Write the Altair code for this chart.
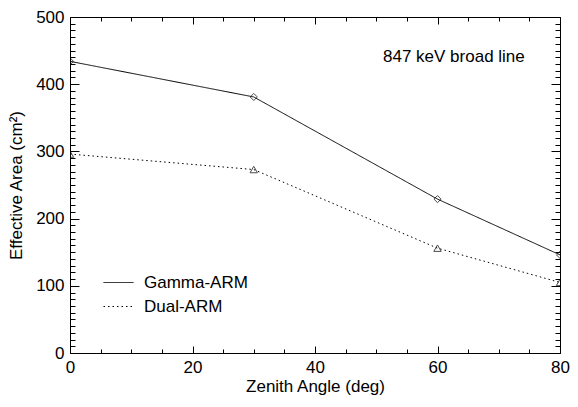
import altair as alt
import pandas as pd

# ---- data ----
angles = [0, 30, 60, 80]
gamma_arm = [434, 381, 229, 146]
dual_arm = [296, 273, 156, 105]
series_names = ["Gamma-ARM", "Dual-ARM"]
annotation = "847 keV broad line"

x_major = [0, 20, 40, 60, 80]
x_minor = list(range(0, 81, 5))
y_major = [0, 100, 200, 300, 400, 500]
y_minor = list(range(0, 501, 10))

df = pd.DataFrame({
    "angle": angles * 2,
    "area": gamma_arm + dual_arm,
    "series": [series_names[0]] * len(angles) + [series_names[1]] * len(angles),
})

FONT = "Liberation Sans"
W, H = 490, 336

xscale = alt.Scale(domain=[0, 80], nice=False, zero=False)
yscale = alt.Scale(domain=[0, 500], nice=False)

x_tick_size = {"condition": {"test": "datum.value % 20 === 0", "value": 7}, "value": 4}
y_tick_size = {"condition": {"test": "datum.value % 100 === 0", "value": 9}, "value": 5}


def tick_axis_x(orient):
    return alt.Axis(orient=orient, offset=-H, values=x_minor, tickSize=x_tick_size,
                    labels=False, domain=False, grid=False, title=None, ticks=True)


def tick_axis_y(orient):
    return alt.Axis(orient=orient, offset=-W, values=y_minor, tickSize=y_tick_size,
                    labels=False, domain=False, grid=False, title=None, ticks=True)


lines = alt.Chart(df).mark_line(color="black", strokeWidth=1, clip=True).encode(
    x=alt.X("angle:Q", scale=xscale,
            axis=alt.Axis(orient="bottom", values=x_major, title="Zenith Angle (deg)",
                          ticks=False, tickSize=0, domain=False, grid=False,
                          labelPadding=6, titlePadding=3, labelFlush=False)),
    y=alt.Y("area:Q", scale=yscale,
            axis=alt.Axis(orient="left", values=y_major, title="Effective Area (cm²)",
                          ticks=False, tickSize=0, domain=False, grid=False,
                          labelPadding=6, titlePadding=10, labelFlush=False)),
    strokeDash=alt.StrokeDash(
        "series:N",
        scale=alt.Scale(domain=series_names, range=[[1, 0], [1.5, 3]]),
        legend=alt.Legend(title=None, orient="none", legendX=33, legendY=250,
                          symbolType="stroke", symbolSize=900, symbolStrokeWidth=1,
                          symbolStrokeColor="black", labelFontSize=17, labelFont=FONT,
                          labelColor="black", labelOffset=10, rowPadding=0, padding=0),
    ),
)

pts_g = alt.Chart(df).transform_filter(
    alt.datum.series == series_names[0]
).mark_point(shape="diamond", filled=False, color="black", size=50, strokeWidth=1, clip=True).encode(
    x=alt.X("angle:Q", scale=xscale, axis=tick_axis_x("top")),
    y=alt.Y("area:Q", scale=yscale, axis=tick_axis_y("right")),
)

pts_d = alt.Chart(df).transform_filter(
    alt.datum.series == series_names[1]
).mark_point(shape="triangle-up", filled=False, color="black", size=55, strokeWidth=1, clip=True).encode(
    x=alt.X("angle:Q", scale=xscale, axis=tick_axis_x("bottom")),
    y=alt.Y("area:Q", scale=yscale, axis=tick_axis_y("left")),
)

ann = alt.Chart(pd.DataFrame({"t": [annotation]})).mark_text(
    align="left", baseline="middle", font=FONT, fontSize=17, color="black"
).encode(text="t:N", x=alt.value(313), y=alt.value(40))

chart = alt.layer(lines, pts_g, pts_d, ann).resolve_axis(
    x="independent", y="independent"
).properties(
    width=W, height=H,
    padding={"left": 62, "top": 9, "right": 10, "bottom": 46},
    autosize=alt.AutoSizeParams(type="none"),
).configure_view(
    stroke="black", strokeWidth=1
).configure_axis(
    labelFont=FONT, titleFont=FONT, labelFontSize=17, titleFontSize=17,
    labelColor="black", titleColor="black", titleFontWeight="normal",
    tickColor="black", tickWidth=1,
)

chart.save("out.html", embed_options={"renderer": "svg", "actions": False})
